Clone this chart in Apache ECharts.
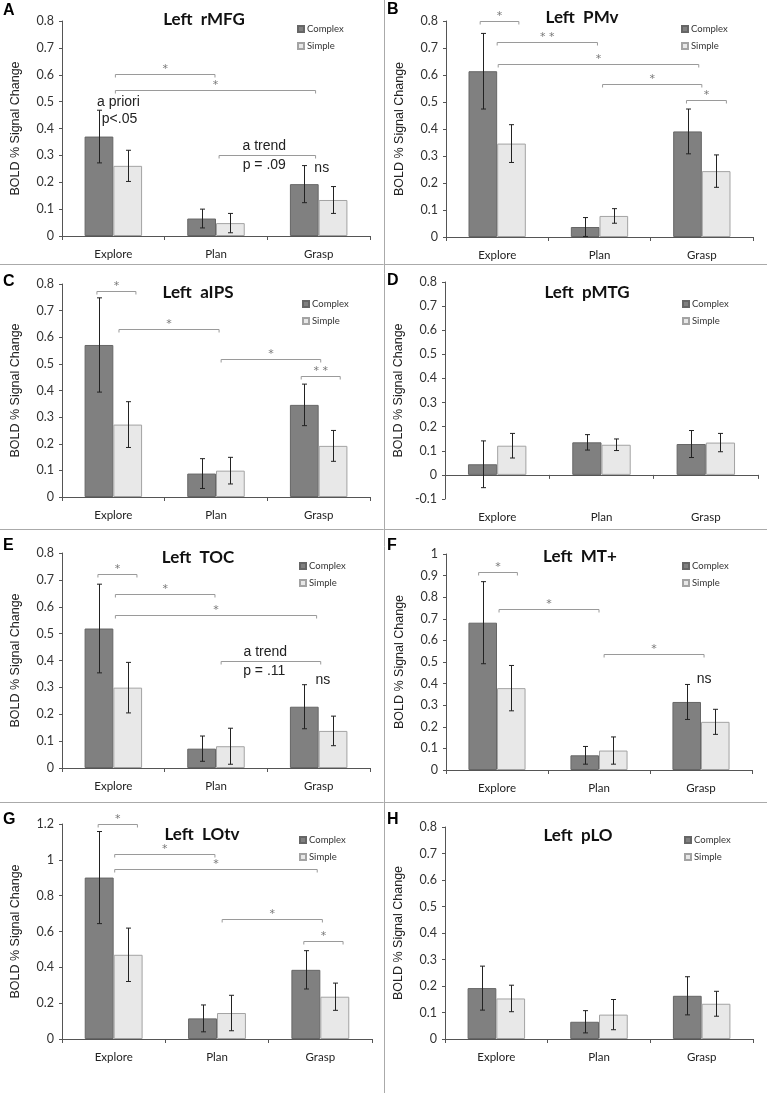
<!DOCTYPE html>
<html>
<head>
<meta charset="utf-8">
<script src="https://cdn.jsdelivr.net/npm/echarts@6/dist/echarts.min.js"></script>
<style>
html, body { margin: 0; padding: 0; background: #fff; }
#chart { width: 767px; height: 1093px; }
</style>
</head>
<body>
<div id="chart"></div>
<script>
// ---- data ----
const categories = ["Explore", "Plan", "Grasp"];
const letters = ["A", "B", "C", "D", "E", "F", "G", "H"];
const titles = ["Left  rMFG", "Left  PMv", "Left  aIPS", "Left  pMTG", "Left  TOC", "Left  MT+", "Left  LOtv", "Left  pLO"];

// mean BOLD % signal change, one row per panel (Explore, Plan, Grasp)
const complexMean = [
  [0.370, 0.065, 0.193],
  [0.614, 0.037, 0.391],
  [0.571, 0.088, 0.346],
  [0.044, 0.135, 0.128],
  [0.519, 0.072, 0.228],
  [0.682, 0.068, 0.315],
  [0.901, 0.115, 0.386],
  [0.192, 0.065, 0.163]
];
const complexErr = [
  [0.098, 0.035, 0.069],
  [0.140, 0.035, 0.083],
  [0.177, 0.056, 0.078],
  [0.097, 0.032, 0.056],
  [0.165, 0.047, 0.082],
  [0.190, 0.041, 0.081],
  [0.257, 0.075, 0.107],
  [0.083, 0.042, 0.072]
];
const simpleMean = [
  [0.261, 0.048, 0.134],
  [0.346, 0.078, 0.244],
  [0.272, 0.099, 0.192],
  [0.121, 0.125, 0.134],
  [0.299, 0.081, 0.138],
  [0.379, 0.090, 0.223],
  [0.470, 0.145, 0.236],
  [0.153, 0.092, 0.133]
];
const simpleErr = [
  [0.058, 0.036, 0.050],
  [0.070, 0.027, 0.060],
  [0.086, 0.050, 0.058],
  [0.051, 0.024, 0.038],
  [0.094, 0.067, 0.055],
  [0.105, 0.063, 0.058],
  [0.149, 0.099, 0.076],
  [0.050, 0.057, 0.047]
];

// y axis ranges
const yMin = [0, 0, 0, -0.1, 0, 0, 0, 0];
const yMax = [0.8, 0.8, 0.8, 0.8, 0.8, 1, 1.2, 0.8];
const yStep = [0.1, 0.1, 0.1, 0.1, 0.1, 0.1, 0.2, 0.1];

// significance brackets: [fromCat, fromOffset, toCat, toOffset, y, label]
const brackets = [
  [[0, 0.02, 1, -0.01, 0.604, "*"], [0, 0.02, 2, -0.03, 0.544, "*"], [1, 0.03, 2, -0.03, 0.302, ""]],
  [[0, -0.166, 0, 0.212, 0.80, "*"], [0, 0, 1, -0.02, 0.722, "* *"], [0, 0.01, 2, -0.03, 0.642, "*"],
   [1, 0.03, 2, 0, 0.565, "*"], [2, -0.15, 2, 0.24, 0.506, "*"]],
  [[0, -0.16, 0, 0.22, 0.775, "*"], [0, 0.055, 1, 0.03, 0.631, "*"], [1, 0.05, 2, 0.02, 0.5175, "*"],
   [2, -0.17, 2, 0.21, 0.455, "* *"]],
  [],
  [[0, -0.15, 0, 0.23, 0.722, "*"], [0, 0.02, 1, -0.01, 0.648, "*"], [0, 0.02, 2, -0.02, 0.569, "*"],
   [1, 0.05, 2, 0.02, 0.397, ""]],
  [[0, -0.18, 0, 0.2, 0.915, "*"], [0, 0.02, 1, 0, 0.745, "*"], [1, 0.05, 2, 0.03, 0.536, "*"]],
  [[0, -0.15, 0, 0.23, 1.2, "*"], [0, 0.01, 1, -0.02, 1.031, "*"], [0, 0.01, 2, -0.03, 0.947, "*"],
   [1, 0.05, 2, 0.02, 0.669, "*"], [2, -0.16, 2, 0.22, 0.545, "*"]],
  []
];

// text notes: [cat, offset, y, text]
const notes = [
  [[0, 0.05, 0.498, "a priori"], [0, 0.06, 0.436, "p<.05"], [1, 0.47, 0.334, "a trend"],
   [1, 0.47, 0.265, "p = .09"], [2, 0.03, 0.252, "ns"]],
  [], [], [],
  [[1, 0.48, 0.43, "a trend"], [1, 0.47, 0.362, "p = .11"], [2, 0.04, 0.326, "ns"]],
  [[2, 0.03, 0.422, "ns"]],
  [], []
];

// ---- layout ----
const gridBox = [
  [62, 21, 308, 215], [446, 21, 307, 216],
  [62, 284, 308, 213], [445, 282, 313, 217],
  [62, 553, 308, 215], [446, 554, 306, 216],
  [62, 824, 310, 215], [445, 827, 308, 212]
];
const titlePos = [[204, 20], [582, 18], [198, 293], [587, 293], [198, 558], [580, 557], [202, 835], [578, 836]];
const legendPos = [[297, 24], [681, 24], [302, 299], [682, 299], [299, 561], [682, 561], [299, 835], [684, 835]];
const letterPos = [[3, 3], [387, 2], [3, 274], [387, 273], [3, 538], [387, 538], [3, 812], [387, 812]];

const TICK_FONT = "Lato, 'Open Sans', sans-serif";
const AXIS_COLOR = "#555";
const HALF = 0.14; // bar centre offset in category widths

let chart = echarts.init(document.getElementById("chart"));

function errorBars(sign) {
  return function (params, api) {
    const i = api.value(0), mean = api.value(1), err = api.value(2);
    const band = api.size([1, 0])[0];
    const hi = api.coord([i, mean + err]);
    const lo = api.coord([i, mean - err]);
    const x = Math.round(hi[0] + sign * band * HALF) + 0.5;
    const st = { stroke: "#222", lineWidth: 1 };
    return {
      type: "group",
      children: [
        { type: "line", shape: { x1: x, y1: hi[1], x2: x, y2: lo[1] }, style: st },
        { type: "line", shape: { x1: x - 2.5, y1: hi[1], x2: x + 2.5, y2: hi[1] }, style: st },
        { type: "line", shape: { x1: x - 2.5, y1: lo[1], x2: x + 2.5, y2: lo[1] }, style: st }
      ]
    };
  };
}

function bracketItem(list) {
  return function (params, api) {
    const b = list[params.dataIndex];
    const band = api.size([1, 0])[0];
    const p1 = api.coord([b[0], b[4]]);
    const p2 = api.coord([b[2], b[4]]);
    const x1 = p1[0] + b[1] * band, x2 = p2[0] + b[3] * band;
    const y = Math.round(p1[1]) + 0.5;
    const children = [
      { type: "polyline", shape: { points: [[x1, y + 3], [x1, y], [x2, y], [x2, y + 3]] },
        style: { stroke: "#9a9a9a", lineWidth: 1, fill: null } }
    ];
    if (b[5]) {
      children.push({ type: "text", style: { text: b[5], x: (x1 + x2) / 2, y: y - 5,
        align: "center", verticalAlign: "middle", fill: "#777", fontSize: 11, fontFamily: "DejaVu Sans" } });
    }
    return { type: "group", children: children };
  };
}

function noteItem(list) {
  return function (params, api) {
    const n = list[params.dataIndex];
    const band = api.size([1, 0])[0];
    const p = api.coord([n[0], n[2]]);
    return { type: "text", style: { text: n[3], x: p[0] + n[1] * band, y: p[1],
      align: "center", verticalAlign: "middle", fill: "#222", fontSize: 14, fontFamily: "Liberation Sans, Arial" } };
  };
}

const grids = [], xAxes = [], yAxes = [], legends = [], series = [], graphics = [];

for (let k = 0; k < 8; k++) {
  const g = gridBox[k];
  grids.push({ left: g[0], top: g[1], width: g[2], height: g[3], outerBoundsMode: "none" });
  xAxes.push({
    gridIndex: k, type: "category", data: categories,
    axisLine: { onZero: true, lineStyle: { color: AXIS_COLOR, width: 1 } },
    axisTick: { show: true, length: 4, alignWithLabel: false, lineStyle: { color: AXIS_COLOR } },
    axisLabel: { margin: 12, color: "#222", fontSize: 11.5, fontFamily: TICK_FONT },
    splitLine: { show: false }
  });
  yAxes.push({
    gridIndex: k, type: "value", min: yMin[k], max: yMax[k], interval: yStep[k],
    name: "BOLD % Signal Change", nameLocation: "middle", nameGap: 40, nameRotate: 90,
    nameTextStyle: { fontSize: 12.5, color: "#222", fontFamily: "Liberation Sans, Arial" },
    axisLine: { show: true, lineStyle: { color: AXIS_COLOR, width: 1 } },
    axisTick: { show: true, length: 3, lineStyle: { color: AXIS_COLOR } },
    axisLabel: { margin: 8, color: "#333", fontSize: 12.5, fontFamily: TICK_FONT },
    splitLine: { show: false }
  });
  legends.push({
    data: ["Complex", "Simple"], orient: "vertical", left: legendPos[k][0], top: legendPos[k][1],
    icon: "rect", itemWidth: 6, itemHeight: 6, itemGap: 7, padding: 0,
    textStyle: { fontSize: 9.5, color: "#333", fontFamily: TICK_FONT, padding: [0, 0, 0, -2] }
  });
  series.push({
    name: "Complex", type: "bar", xAxisIndex: k, yAxisIndex: k, data: complexMean[k],
    barGap: "0%", barCategoryGap: "44%",
    itemStyle: { color: "#808080", borderColor: "#666", borderWidth: 1 },
    emphasis: { disabled: true }
  });
  series.push({
    name: "Simple", type: "bar", xAxisIndex: k, yAxisIndex: k, data: simpleMean[k],
    barGap: "0%", barCategoryGap: "44%",
    itemStyle: { color: "#e8e8e8", borderColor: "#a3a3a3", borderWidth: 1 },
    emphasis: { disabled: true }
  });
  series.push({
    type: "custom", xAxisIndex: k, yAxisIndex: k, z: 5, silent: true,
    renderItem: errorBars(-1),
    data: complexMean[k].map((m, i) => [i, m, complexErr[k][i]])
  });
  series.push({
    type: "custom", xAxisIndex: k, yAxisIndex: k, z: 5, silent: true,
    renderItem: errorBars(1),
    data: simpleMean[k].map((m, i) => [i, m, simpleErr[k][i]])
  });
  if (brackets[k].length) {
    series.push({
      type: "custom", xAxisIndex: k, yAxisIndex: k, z: 6, silent: true, clip: false,
      renderItem: bracketItem(brackets[k]),
      data: brackets[k].map(b => [b[0], b[4]])
    });
  }
  if (notes[k].length) {
    series.push({
      type: "custom", xAxisIndex: k, yAxisIndex: k, z: 6, silent: true, clip: false,
      renderItem: noteItem(notes[k]),
      data: notes[k].map(n => [n[0], n[2]])
    });
  }
  graphics.push({
    type: "text", x: titlePos[k][0], y: titlePos[k][1],
    style: { text: titles[k], align: "center", verticalAlign: "middle", fill: "#111",
      fontSize: 17, fontWeight: "bold", fontFamily: TICK_FONT }
  });
  graphics.push({
    type: "text", x: letterPos[k][0], y: letterPos[k][1],
    style: { text: letters[k], align: "left", verticalAlign: "top", fill: "#000",
      fontSize: 16, fontWeight: "bold", fontFamily: "Liberation Sans, Arial" }
  });
}

// panel separators
graphics.push({ type: "line", shape: { x1: 384.5, y1: 0, x2: 384.5, y2: 1093 }, style: { stroke: "#aaa", lineWidth: 1 } });
[264, 529, 802].forEach(y => {
  graphics.push({ type: "line", shape: { x1: 0, y1: y + 0.5, x2: 767, y2: y + 0.5 }, style: { stroke: "#aaa", lineWidth: 1 } });
});

chart.setOption({
  animation: false,
  backgroundColor: "#fff",
  grid: grids,
  xAxis: xAxes,
  yAxis: yAxes,
  legend: legends,
  series: series,
  graphic: graphics
});
</script>
</body>
</html>
